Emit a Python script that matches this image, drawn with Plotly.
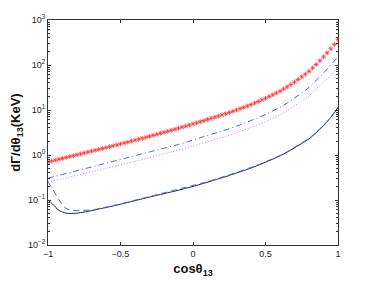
import plotly.graph_objects as go

# Red stars (data points)
star_x = [-1.000, -0.975, -0.950, -0.925, -0.900, -0.875, -0.850, -0.825, -0.800, -0.775,
          -0.750, -0.725, -0.700, -0.675, -0.650, -0.625, -0.600, -0.575, -0.550, -0.525,
          -0.500, -0.475, -0.450, -0.425, -0.400, -0.375, -0.350, -0.325, -0.300, -0.275,
          -0.250, -0.225, -0.200, -0.175, -0.150, -0.125, -0.100, -0.075, -0.050, -0.025,
          0.000, 0.025, 0.050, 0.075, 0.100, 0.125, 0.150, 0.175, 0.200, 0.225,
          0.250, 0.275, 0.300, 0.325, 0.350, 0.375, 0.400, 0.425, 0.450, 0.475,
          0.500, 0.525, 0.550, 0.575, 0.600, 0.625, 0.650, 0.675, 0.700, 0.725,
          0.750, 0.775, 0.800, 0.825, 0.850, 0.875, 0.900, 0.925, 0.950, 0.975, 1.000]
star_y = [0.700, 0.733, 0.767, 0.804, 0.841, 0.881, 0.923, 0.966, 1.012, 1.059,
          1.109, 1.161, 1.216, 1.274, 1.334, 1.396, 1.462, 1.531, 1.603, 1.679,
          1.758, 1.845, 1.936, 2.032, 2.138, 2.244, 2.355, 2.472, 2.600, 2.735,
          2.884, 3.034, 3.199, 3.365, 3.548, 3.733, 3.936, 4.159, 4.385, 4.634,
          4.898, 5.188, 5.495, 5.821, 6.166, 6.531, 6.918, 7.328, 7.762, 8.260,
          8.790, 9.376, 10.00, 10.72, 11.48, 12.30, 13.18, 14.26, 15.45, 16.75,
          18.20, 19.91, 21.78, 23.88, 26.30, 29.31, 32.73, 36.81, 41.69, 47.64,
          54.58, 62.66, 72.44, 85.90, 102.8, 124.2, 151.4, 186.2, 229.1, 288.4, 371.5]

# Line curves
line_x = [-1.0, -0.975, -0.95, -0.925, -0.9, -0.875, -0.85, -0.8, -0.75, -0.7,
          -0.65, -0.6, -0.55, -0.5, -0.45, -0.4, -0.35, -0.3, -0.25, -0.2,
          -0.15, -0.1, -0.05, 0.0, 0.05, 0.1, 0.15, 0.2, 0.25, 0.3,
          0.35, 0.4, 0.45, 0.5, 0.55, 0.6, 0.65, 0.7, 0.75, 0.8,
          0.85, 0.875, 0.9, 0.925, 0.95, 0.975, 1.0]
dashdot_y = [0.305, 0.320, 0.335, 0.351, 0.367, 0.385, 0.403, 0.442, 0.484, 0.531,
             0.582, 0.638, 0.700, 0.767, 0.845, 0.933, 1.028, 1.135, 1.259, 1.396,
             1.549, 1.718, 1.914, 2.138, 2.399, 2.692, 3.020, 3.388, 3.837, 4.365,
             5.012, 5.754, 6.745, 7.943, 9.506, 11.48, 14.29, 18.20, 23.82, 31.62,
             44.87, 55.5, 66.07, 81.28, 99.0, 122.0, 152.0]
dotted_y = [0.251, 0.262, 0.274, 0.286, 0.299, 0.313, 0.327, 0.356, 0.388, 0.424,
            0.461, 0.504, 0.550, 0.598, 0.656, 0.721, 0.791, 0.867, 0.957, 1.057,
            1.167, 1.288, 1.426, 1.585, 1.766, 1.968, 2.193, 2.449, 2.754, 3.112,
            3.548, 4.046, 4.710, 5.508, 6.561, 7.870, 9.727, 12.30, 15.85, 20.65,
            28.84, 34.51, 41.69, 49.55, 58.88, 71.61, 89.13]
solid_y = [0.100, 0.085, 0.070, 0.059, 0.054, 0.051, 0.050, 0.051, 0.054, 0.058,
           0.063, 0.068, 0.0741, 0.0807, 0.0883, 0.0968, 0.106, 0.116, 0.127, 0.138,
           0.151, 0.165, 0.182, 0.200, 0.223, 0.249, 0.279, 0.311, 0.352, 0.398,
           0.452, 0.513, 0.594, 0.692, 0.809, 0.955, 1.161, 1.445, 1.807, 2.291,
           3.141, 3.733, 4.467, 5.495, 6.839, 8.710, 11.48]
dashed_y = [0.255, 0.185, 0.135, 0.098, 0.076, 0.065, 0.060, 0.058, 0.058, 0.060,
            0.064, 0.069, 0.0755, 0.082, 0.090, 0.099, 0.108, 0.118, 0.129, 0.141,
            0.154, 0.169, 0.186, 0.205, 0.229, 0.255, 0.286, 0.319, 0.361, 0.408,
            0.463, 0.525, 0.607, 0.707, 0.826, 0.975, 1.185, 1.47, 1.84, 2.33,
            3.19, 3.79, 4.53, 5.57, 6.93, 8.82, 11.6]

x_ticks = [-1, -0.5, 0, 0.5, 1]
x_ticktext = ["\u22121", "\u22120.5", "0", "0.5", "1"]
y_ticks = [0.01, 0.1, 1, 10, 100, 1000]
y_ticktext = ["10<sup>\u22122</sup>", "10<sup>\u22121</sup>", "10<sup>0</sup>",
              "10<sup>1</sup>", "10<sup>2</sup>", "10<sup>3</sup>"]
y_minor = [m * 10.0 ** e for e in range(-2, 3) for m in range(2, 10)]

fig = go.Figure()
fig.add_trace(go.Scatter(x=line_x, y=solid_y, mode="lines",
                         line=dict(color="#222222", width=1, shape="spline", smoothing=0.6)))
fig.add_trace(go.Scatter(x=line_x, y=dashed_y, mode="lines",
                         line=dict(color="#4466ff", width=1, dash="6px,4px")))
fig.add_trace(go.Scatter(x=line_x, y=dotted_y, mode="lines",
                         line=dict(color="#cc77ff", width=1, dash="1px,2px")))
fig.add_trace(go.Scatter(x=line_x, y=dashdot_y, mode="lines",
                         line=dict(color="#4466ff", width=1, dash="6px,3px,1px,3px")))
fig.add_trace(go.Scatter(x=star_x, y=star_y, mode="markers",
                         marker=dict(symbol="asterisk-open", size=4, color="#ff3535",
                                     line=dict(color="#ff3535", width=0.8))))

font_family = "Liberation Sans, Arial, sans-serif"
fig.update_layout(
    width=374, height=281,
    margin=dict(l=48, r=36, t=20, b=36),
    paper_bgcolor="white", plot_bgcolor="white",
    showlegend=False,
    font=dict(family=font_family, size=9, color="#222222"),
    xaxis=dict(range=[-1, 1], tickvals=x_ticks, ticktext=x_ticktext,
               ticks="inside", ticklen=3, tickcolor="#333333",
               showline=True, linecolor="#333333", linewidth=1, mirror="ticks",
               showgrid=False, zeroline=False, automargin=False,
               tickfont=dict(size=9, color="#222222"),
               title=dict(text="<b>cos\u03b8<sub>13</sub></b>", standoff=6,
                          font=dict(size=13, color="#111111"))),
    yaxis=dict(type="log", range=[-2, 3], tickvals=y_ticks, ticktext=y_ticktext,
               ticks="inside", ticklen=3, tickcolor="#333333",
               showline=True, linecolor="#333333", linewidth=1, mirror="ticks",
               showgrid=False, zeroline=False, automargin=False,
               minor=dict(tickvals=y_minor, ticks="inside", ticklen=2,
                          tickcolor="#333333", showgrid=False),
               tickfont=dict(size=9, color="#222222"),
               title=dict(text="<b>d\u0393/d\u03b8<sub>13</sub>(KeV)</b>", standoff=4,
                          font=dict(size=13, color="#111111"))),
)

fig.write_html("out.html", config={"displayModeBar": False},
               post_script="document.body.style.margin='0';document.body.style.overflow='hidden';")
